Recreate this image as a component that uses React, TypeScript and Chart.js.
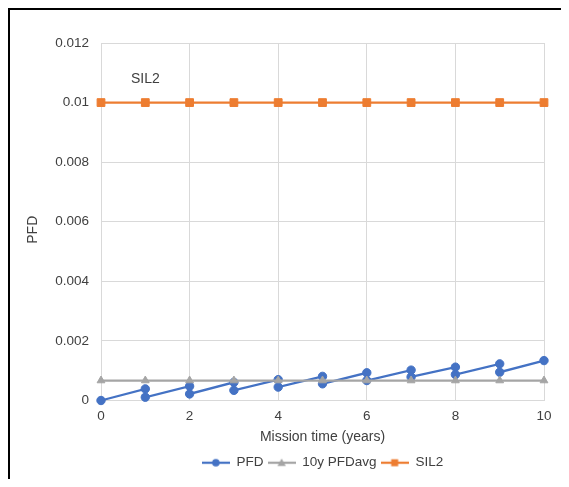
import React, { useEffect, useRef } from "react";
import { Chart, registerables } from "chart.js";

Chart.register(...registerables);

// ---- data ----
const years = [0, 1, 2, 3, 4, 5, 6, 7, 8, 9, 10];
const pfdTimes = [0, 1, 1, 2, 2, 3, 3, 4, 4, 5, 5, 6, 6, 7, 7, 8, 8, 9, 9, 10];
const pfdValues = [
  0, 0.00039, 0.00011, 0.00048, 0.00022, 0.00061, 0.00034, 0.0007, 0.00045, 0.00081,
  0.00056, 0.00093, 0.00067, 0.00102, 0.00079, 0.00112, 0.00087, 0.00123, 0.00095, 0.00134,
];
const pfdAvgValues = [0.00067, 0.00067, 0.00067, 0.00067, 0.00067, 0.00067, 0.00067, 0.00067, 0.00067, 0.00067, 0.00067];
const sil2Values = [0.01, 0.01, 0.01, 0.01, 0.01, 0.01, 0.01, 0.01, 0.01, 0.01, 0.01];
const seriesNames = ["PFD", "10y PFDavg", "SIL2"];
const xTickLabels = ["0", "2", "4", "6", "8", "10"];
const yTickLabels = ["0", "0.002", "0.004", "0.006", "0.008", "0.01", "0.012"];
const xTitle = "Mission time (years)";
const yTitle = "PFD";
const noteText = "SIL2";
const noteX = 1;
const noteY = 0.0108;

// ---- styles ----
const FONT = "'Liberation Sans', Arial, Helvetica, sans-serif";
const TEXT = "#404040";
const GRID = "#d9d9d9";
const BLUE = "#4472C4";
const GRAY = "#A5A5A5";
const ORANGE = "#ED7D31";

function legendIcon(color: string, style: string): HTMLCanvasElement {
  const c = document.createElement("canvas");
  c.width = 28;
  c.height = 12;
  const g = c.getContext("2d")!;
  g.strokeStyle = color;
  g.fillStyle = color;
  g.lineWidth = 2.25;
  g.beginPath();
  g.moveTo(0, 6);
  g.lineTo(28, 6);
  g.stroke();
  g.beginPath();
  if (style === "circle") {
    g.arc(14, 6, 3.8, 0, Math.PI * 2);
  } else if (style === "triangle") {
    g.moveTo(14, 1.8);
    g.lineTo(18.2, 9.2);
    g.lineTo(9.8, 9.2);
    g.closePath();
  } else {
    g.rect(10.5, 2.5, 7, 7);
  }
  g.fill();
  return c;
}

const notePlugin = {
  id: "notePlugin",
  afterDatasetsDraw(chart: any) {
    const { ctx, scales, chartArea } = chart;
    ctx.save();
    ctx.font = `14px ${FONT}`;
    ctx.fillStyle = TEXT;
    ctx.textAlign = "center";
    ctx.textBaseline = "middle";
    ctx.fillText(noteText, scales.x.getPixelForValue(noteX), scales.y.getPixelForValue(noteY));
    // y-axis title
    ctx.translate(scales.y.left + 13, (chartArea.top + chartArea.bottom) / 2 + 8);
    ctx.rotate(-Math.PI / 2);
    ctx.fillText(yTitle, 0, 0);
    ctx.restore();
  },
};

export default function App() {
  const ref = useRef<HTMLCanvasElement | null>(null);

  useEffect(() => {
    document.documentElement.style.overflow = "hidden";
    const canvas = ref.current!;
    const colors = [BLUE, GRAY, ORANGE];
    const styles = ["circle", "triangle", "rect"];
    const icons = colors.map((c, i) => legendIcon(c, styles[i]));

    const chart = new Chart(canvas, {
      type: "line",
      data: {
        datasets: [
          {
            label: seriesNames[0],
            data: pfdTimes.map((t, i) => ({ x: t, y: pfdValues[i] })),
            borderColor: BLUE,
            backgroundColor: BLUE,
            borderWidth: 2.25,
            pointStyle: "circle",
            pointRadius: 4.2,
            pointBorderWidth: 1,
            clip: false,
            order: 3,
          },
          {
            label: seriesNames[1],
            data: years.map((t, i) => ({ x: t, y: pfdAvgValues[i] })),
            borderColor: GRAY,
            backgroundColor: GRAY,
            borderWidth: 2.25,
            pointStyle: "triangle",
            pointRadius: 4.5,
            pointBorderWidth: 1,
            clip: false,
            order: 2,
          },
          {
            label: seriesNames[2],
            data: years.map((t, i) => ({ x: t, y: sil2Values[i] })),
            borderColor: ORANGE,
            backgroundColor: ORANGE,
            borderWidth: 2.25,
            pointStyle: "rect",
            pointRadius: 5.5,
            pointBorderWidth: 1,
            clip: false,
            order: 1,
          },
        ] as any,
      },
      options: {
        animation: false,
        responsive: false,
        events: [],
        layout: { padding: { left: 10, right: 25, top: 33, bottom: 7.5 } },
        scales: {
          x: {
            type: "linear",
            min: 0,
            max: 10,
            ticks: {
              stepSize: 2,
              padding: 8,
              color: TEXT,
              font: { family: FONT, size: 13.5 },
              maxRotation: 0,
              callback: (_v: any, i: number) => xTickLabels[i],
            },
            grid: { color: GRID, lineWidth: 1, drawTicks: false },
            border: { display: true, color: GRID, width: 1 },
            title: {
              display: true,
              text: xTitle,
              color: TEXT,
              font: { family: FONT, size: 14 },
              padding: { top: 0, bottom: 6 },
            },
            afterFit: (s: any) => {
              s.height = 51.5;
            },
          },
          y: {
            type: "linear",
            min: 0,
            max: 0.012,
            ticks: {
              stepSize: 0.002,
              padding: 12,
              color: TEXT,
              font: { family: FONT, size: 13.5 },
              callback: (_v: any, i: number) => yTickLabels[i],
            },
            grid: { color: GRID, lineWidth: 1, drawTicks: false },
            border: { display: true, color: GRID, width: 1 },
            title: { display: false },
            afterFit: (s: any) => {
              s.width = 81;
            },
          },
        },
        plugins: {
          tooltip: { enabled: false },
          legend: {
            display: true,
            position: "bottom",
            fullSize: false,
            labels: {
              usePointStyle: true,
              pointStyleWidth: 28,
              padding: 4,
              color: TEXT,
              font: { family: FONT, size: 13.5 },
              generateLabels: () =>
                seriesNames.map((name, i) => ({
                  text: name,
                  fillStyle: colors[i],
                  strokeStyle: colors[i],
                  lineWidth: 0,
                  pointStyle: icons[i],
                  hidden: false,
                  datasetIndex: i,
                  fontColor: TEXT,
                })),
            },
          },
        },
      } as any,
      plugins: [notePlugin],
    });
    return () => chart.destroy();
  }, []);

  return (
    <div
      style={{
        width: 561,
        height: 479,
        boxSizing: "border-box",
        borderTop: "2px solid #000",
        borderLeft: "2px solid #000",
        marginBottom: -8,
        background: "#fff",
      }}
    >
      <canvas ref={ref} width={559} height={477} style={{ display: "block", width: 559, height: 477 }} />
    </div>
  );
}
